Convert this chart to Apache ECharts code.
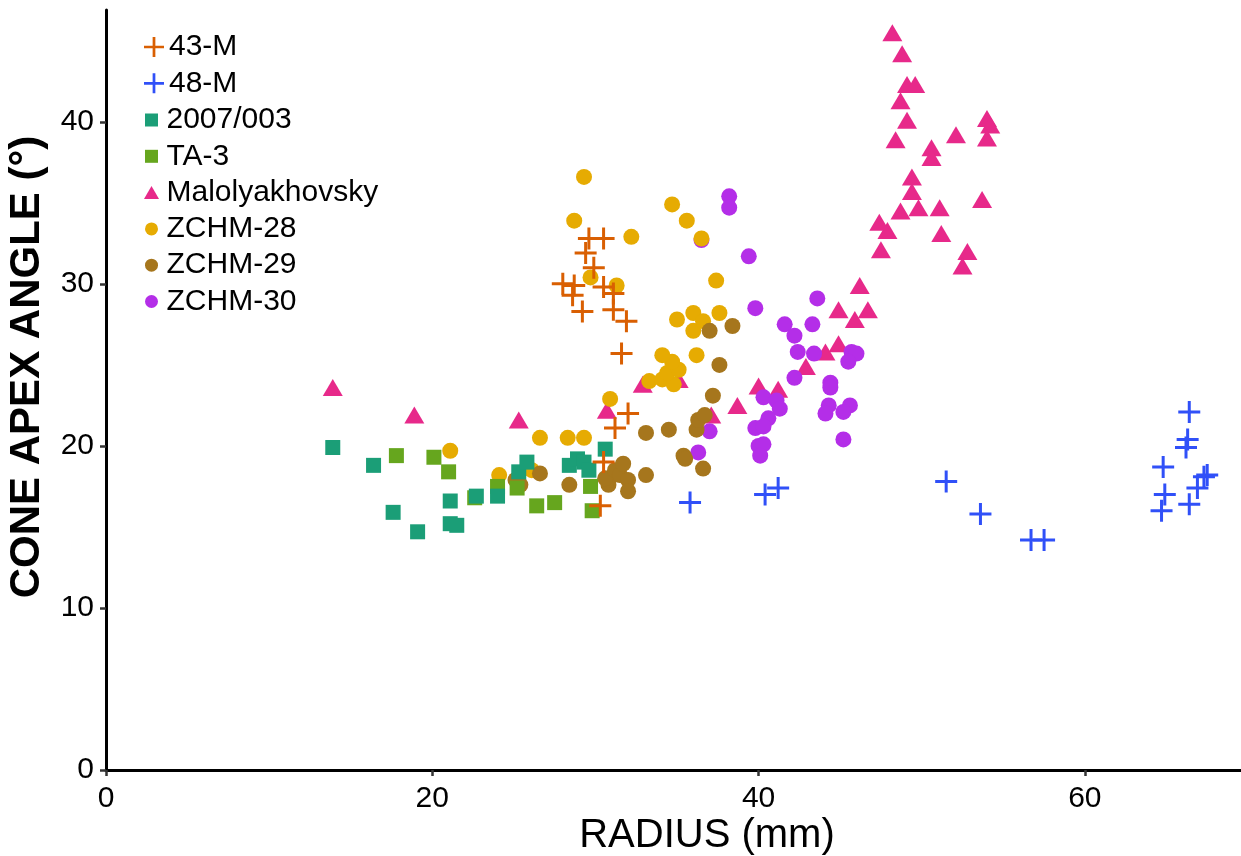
<!DOCTYPE html>
<html>
<head>
<meta charset="utf-8">
<script src="https://cdn.jsdelivr.net/npm/echarts@6/dist/echarts.min.js"></script>
<style>
  html, body { margin: 0; padding: 0; background: #fff; }
  #chart { width: 1241px; height: 856px; }
</style>
</head>
<body>
<div id="chart"></div>
<script>
// Cone apex angle (degrees) against radius (mm), one array of [radius, angle] per sample
const m43 = [[29.6,32.8],[30.5,32.8],[29.4,31.9],[29.9,31.0],[28.0,30.0],[28.7,29.9],[28.6,29.3],[30.5,29.8],[31.1,29.4],[29.2,28.3],[31.1,28.4],[31.9,27.7],[31.6,25.7],[32.0,22.0],[31.2,21.1],[30.5,19.0],[30.3,16.3]];
const m48 = [[35.8,16.5],[40.4,17.0],[41.2,17.4],[51.5,17.8],[53.6,15.8],[56.7,14.2],[57.5,14.2],[66.4,22.1],[66.3,20.4],[66.2,19.9],[64.8,18.7],[67.3,18.1],[67.5,18.2],[66.9,17.4],[64.9,17.0],[66.4,16.4],[64.7,16.0]];
const s2007003 = [[13.9,19.9],[16.4,18.8],[17.6,15.9],[19.1,14.7],[21.1,16.6],[21.1,15.2],[21.5,15.1],[22.7,16.9],[24.0,16.9],[25.3,18.4],[25.8,19.0],[28.4,18.8],[28.9,19.2],[29.3,19.0],[29.6,18.5],[30.6,19.8]];
const ta3 = [[17.8,19.4],[20.1,19.3],[21.0,18.4],[22.6,16.8],[24.0,17.5],[25.2,17.4],[26.4,16.3],[27.5,16.5],[29.7,17.5],[29.8,16.0]];
const malolyakhovsky = [[13.9,23.6],[18.9,21.9],[25.3,21.6],[30.7,22.2],[32.9,23.8],[35.1,24.1],[37.1,21.9],[38.7,22.5],[40.0,23.7],[41.2,23.5],[42.9,24.9],[44.1,25.8],[44.9,26.3],[45.9,27.8],[44.9,28.4],[46.7,28.4],[46.2,29.9],[47.5,32.1],[47.9,33.3],[47.4,33.8],[48.7,34.5],[49.8,34.7],[51.1,34.7],[49.4,35.7],[49.4,36.6],[53.7,35.2],[51.2,33.1],[52.8,32.0],[52.5,31.1],[48.4,38.9],[50.6,38.4],[50.6,37.8],[52.1,39.2],[49.1,40.1],[48.7,41.3],[49.1,42.3],[49.6,42.3],[48.8,44.2],[48.2,45.5],[54.0,40.2],[54.2,39.8],[54.0,39.0]];
const zchm28 = [[21.1,19.7],[24.1,18.2],[26.1,18.5],[26.6,20.5],[28.3,20.5],[29.3,20.5],[30.9,22.9],[33.3,24.0],[34.1,24.1],[34.8,23.8],[34.4,24.5],[35.1,24.7],[34.7,25.2],[34.1,25.6],[36.2,25.6],[35.0,27.8],[36.0,28.2],[36.0,27.1],[36.6,27.7],[37.6,28.2],[37.4,30.2],[29.7,30.4],[31.3,29.9],[29.3,36.6],[28.7,33.9],[32.2,32.9],[34.7,34.9],[35.6,33.9],[36.5,32.8]];
const zchm29 = [[25.1,17.9],[25.4,17.6],[26.6,18.3],[28.4,17.6],[30.8,17.6],[30.8,17.9],[30.6,18.0],[31.2,18.5],[31.5,18.2],[31.7,18.9],[32.0,17.9],[32.0,17.2],[33.1,18.2],[33.1,20.8],[34.5,21.0],[35.4,19.4],[35.5,19.2],[36.6,18.6],[36.2,21.0],[36.3,21.6],[36.7,21.9],[37.2,23.1],[37.6,25.0],[37.0,27.1],[38.4,27.4]];
const zchm30 = [[36.5,32.7],[38.2,35.4],[38.2,34.7],[39.4,31.7],[39.8,28.5],[43.6,29.1],[41.6,27.5],[43.3,27.5],[42.2,26.8],[42.4,25.8],[43.4,25.7],[45.7,25.8],[46.0,25.7],[45.5,25.2],[42.2,24.2],[44.4,23.9],[44.4,23.6],[40.3,23.0],[41.1,22.8],[41.3,22.3],[40.6,21.7],[39.8,21.1],[40.3,21.2],[44.3,22.5],[44.1,22.0],[45.6,22.5],[45.2,22.1],[45.2,20.4],[40.0,20.0],[40.3,20.1],[40.1,19.4],[37.0,20.9],[36.3,19.6]];

const xTicks = [0, 20, 40, 60];
const yTicks = [0, 10, 20, 30, 40];

const FONT = '"Liberation Sans", Arial, Helvetica, sans-serif';
const CROSS = 'path://M9.5,0H12.5V9.5H22V12.5H12.5V22H9.5V12.5H0V9.5H9.5Z';
const SQUARE_ICON = 'path://M0,0H10V10H0Z';
const TRI_ICON = 'path://M6,0L12,10.4L0,10.4Z';

function scatter(name, data, color, symbol, size) {
  return {
    name, type: 'scatter', data, symbol, symbolSize: size,
    itemStyle: { color, opacity: 1 },
    emphasis: { disabled: true },
    animation: false
  };
}

const chart = echarts.init(document.getElementById('chart'), null, { renderer: 'canvas' });
chart.setOption({
  backgroundColor: '#ffffff',
  animation: false,
  grid: { left: 106, top: 10, right: -7, bottom: 86, containLabel: false, outerBoundsMode: 'none' },
  xAxis: {
    type: 'value', min: 0, max: 70,
    name: 'RADIUS (mm)', nameLocation: 'middle', nameGap: 46, nameMoveOverlap: false,
    nameTextStyle: { fontSize: 40, fontFamily: FONT, color: '#000', padding: [0, 0, 0, 60] },
    axisLine: { show: true, onZero: false, lineStyle: { color: '#000', width: 3 } },
    axisTick: { show: true, customValues: xTicks, length: 6, lineStyle: { color: '#333', width: 2.5 } },
    axisLabel: { customValues: xTicks, fontSize: 30, fontFamily: FONT, color: '#000', margin: 14 },
    splitLine: { show: false }
  },
  yAxis: {
    type: 'value', min: 0, max: 46.9,
    name: 'CONE APEX ANGLE (°)', nameLocation: 'middle', nameGap: 58, nameMoveOverlap: false,
    nameTextStyle: { fontSize: 42, fontWeight: 'bold', fontFamily: FONT, color: '#000', padding: [0, 0, 0, 46] },
    axisLine: { show: true, onZero: false, lineStyle: { color: '#000', width: 3 } },
    axisTick: { show: true, customValues: yTicks, length: 6, lineStyle: { color: '#333', width: 2.5 } },
    axisLabel: { customValues: yTicks, fontSize: 30, fontFamily: FONT, color: '#000', margin: 12 },
    splitLine: { show: false }
  },
  legend: [
    {
      orient: 'vertical', left: 139, top: 27,
      itemWidth: 20, itemHeight: 20, itemGap: 6.3,
      selectedMode: false,
      textStyle: { fontSize: 30, fontFamily: FONT, color: '#000', lineHeight: 30 },
      data: [{ name: '43-M', icon: CROSS }, { name: '48-M', icon: CROSS }]
    },
    {
      orient: 'vertical', left: 139, top: 100,
      itemWidth: 20, itemHeight: 13, itemGap: 6.3,
      selectedMode: false,
      textStyle: { fontSize: 30, fontFamily: FONT, color: '#000', lineHeight: 30 },
      data: [
        { name: '2007/003', icon: SQUARE_ICON },
        { name: 'TA-3', icon: SQUARE_ICON },
        { name: 'Malolyakhovsky', icon: TRI_ICON },
        { name: 'ZCHM-28', icon: 'circle' },
        { name: 'ZCHM-29', icon: 'circle' },
        { name: 'ZCHM-30', icon: 'circle' }
      ]
    }
  ],
  series: [
    scatter('Malolyakhovsky', malolyakhovsky, '#e7298a', 'triangle', [20, 17]),
    scatter('ZCHM-30', zchm30, '#b42ee8', 'circle', 16),
    scatter('ZCHM-28', zchm28, '#e6ab02', 'circle', 16),
    scatter('ZCHM-29', zchm29, '#a6761d', 'circle', 16),
    scatter('TA-3', ta3, '#66a61e', 'rect', 15),
    scatter('2007/003', s2007003, '#1b9e77', 'rect', 15),
    scatter('43-M', m43, '#d95f02', CROSS, 22),
    scatter('48-M', m48, '#3050f8', CROSS, 22)
  ]
});
</script>
</body>
</html>
